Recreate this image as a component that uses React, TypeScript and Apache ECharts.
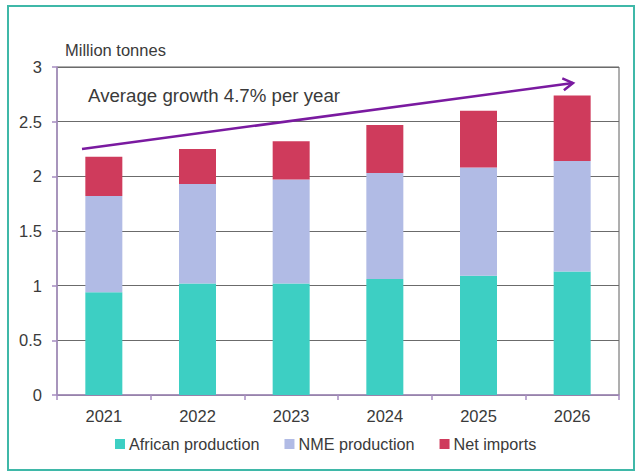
import React, { useEffect, useRef } from "react";
import * as echarts from "echarts";

const years = ["2021", "2022", "2023", "2024", "2025", "2026"];
const africanProduction = [0.94, 1.02, 1.02, 1.06, 1.09, 1.13];
const nmeProduction = [0.88, 0.91, 0.95, 0.97, 0.99, 1.01];
const netImports = [0.36, 0.32, 0.35, 0.44, 0.52, 0.6];
const yTicks = { min: 0, max: 3, interval: 0.5 };
const unitLabel = "Million tonnes";
const annotation = "Average growth 4.7% per year";

const FONT = "'Liberation Sans', Arial, sans-serif";
const TEXT = "#3a3a3a";
const AXIS = "#a68cc0";
const ARROW = "#7a1aa0";

export default function App() {
  const ref = useRef<HTMLDivElement>(null);
  useEffect(() => {
    if (!ref.current) return;
    const chart = echarts.init(ref.current, null, { renderer: "svg" });
    const tip = [573, 83];
    const start = [82, 149];
    const dx = tip[0] - start[0];
    const dy = tip[1] - start[1];
    const len = Math.sqrt(dx * dx + dy * dy);
    const ux = dx / len, uy = dy / len;
    const nx = -uy, ny = ux;
    const back = 10, half = 6;
    const w1 = [tip[0] - back * ux + half * nx, tip[1] - back * uy + half * ny];
    const w2 = [tip[0] - back * ux - half * nx, tip[1] - back * uy - half * ny];

    chart.setOption({
      animation: false,
      backgroundColor: "#ffffff",
      textStyle: { fontFamily: FONT },
      grid: {
        left: 57,
        top: 67,
        right: 16,
        bottom: 76,
        show: true,
        borderColor: "#5e5e5e",
        borderWidth: 1,
        backgroundColor: "transparent",
      },
      legend: {
        left: 110,
        top: 431,
        icon: "rect",
        itemWidth: 10,
        itemHeight: 10,
        itemGap: 25,
        textStyle: { fontSize: 16.2, color: TEXT, fontFamily: FONT, padding: [0, 0, 0, -1] },
        data: ["African production", "NME production", "Net imports"],
      },
      xAxis: {
        type: "category",
        data: years,
        boundaryGap: true,
        axisLine: { show: true, lineStyle: { color: AXIS, width: 1.5 } },
        axisTick: { show: true, length: 5, lineStyle: { color: AXIS, width: 1.5 } },
        axisLabel: { fontSize: 16.5, color: TEXT, margin: 12, fontFamily: FONT },
        splitLine: { show: false },
      },
      yAxis: {
        type: "value",
        min: yTicks.min,
        max: yTicks.max,
        interval: yTicks.interval,
        axisLine: { show: true, lineStyle: { color: AXIS, width: 1.5 } },
        axisTick: { show: true, length: 5, lineStyle: { color: AXIS, width: 1.5 } },
        axisLabel: { fontSize: 16.5, color: TEXT, margin: 15, fontFamily: FONT },
        splitLine: { show: true, lineStyle: { color: "#6b6b6b", width: 1 } },
      },
      series: [
        {
          name: "African production",
          type: "bar",
          stack: "total",
          barWidth: 37,
          data: africanProduction,
          itemStyle: { color: "#3dcfc3" },
        },
        {
          name: "NME production",
          type: "bar",
          stack: "total",
          barWidth: 37,
          data: nmeProduction,
          itemStyle: { color: "#b1bbe5" },
        },
        {
          name: "Net imports",
          type: "bar",
          stack: "total",
          barWidth: 37,
          data: netImports,
          itemStyle: { color: "#cf3b5c" },
        },
      ],
      graphic: [
        {
          type: "rect",
          shape: { x: 8, y: 6, width: 626, height: 464 },
          style: { fill: "none", stroke: "#3fb8a8", lineWidth: 2 },
          silent: true,
        },
        {
          type: "text",
          x: 65,
          y: 41,
          style: { text: unitLabel, fontSize: 16.5, fill: TEXT, fontFamily: FONT },
        },
        {
          type: "text",
          x: 88,
          y: 86,
          style: { text: annotation, fontSize: 18.7, fill: TEXT, fontFamily: FONT },
        },
        {
          type: "line",
          shape: { x1: start[0], y1: start[1], x2: tip[0], y2: tip[1] },
          style: { stroke: ARROW, lineWidth: 2.5 },
          z: 10,
        },
        {
          type: "polyline",
          shape: { points: [w1, tip, w2] },
          style: { stroke: ARROW, lineWidth: 2.5, fill: "none" },
          z: 10,
        },
      ],
    });
    return () => chart.dispose();
  }, []);
  return (
    <div
      ref={ref}
      style={{ position: "fixed", left: 0, top: 0, width: 635, height: 471, background: "#fff" }}
    />
  );
}
